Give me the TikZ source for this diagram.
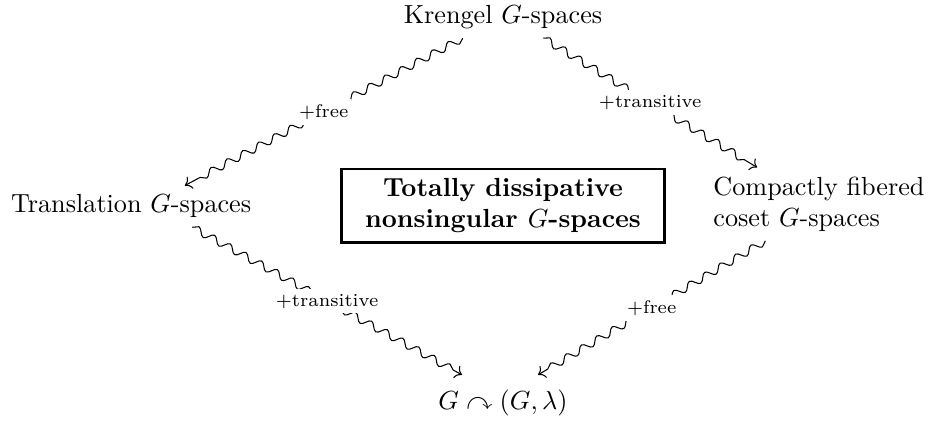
\documentclass[tikz,border=0pt]{standalone}
\usepackage{amsmath}
\usepackage{amssymb}
\usepackage{tikz}
\usetikzlibrary{arrows.meta,decorations.pathmorphing}

\begin{document}
\begin{tikzpicture}[
  space/.style={align=left, inner sep=3.33pt},
  squig/.style={-To, decorate, decoration={snake, amplitude=.5mm, segment length=2.4mm, post length=1.2mm}},
  lbl/.style={fill=white, font=\scriptsize, inner xsep=1pt, inner ysep=2pt},
  box/.style={draw, line width=1pt, align=center, font=\bfseries, inner xsep=9pt, inner ysep=3.5pt}
]
\useasboundingbox (0,0) rectangle (12.48,5.64);
\node[space] (kr) at (6.75,5.41) {Krengel $G$-spaces};
\node[space] (tr) at (1.76,2.87) {Translation $G$-spaces};
\node[space] (cf) at (10.99,2.90) {Compactly fibered\\coset $G$-spaces};
\node[space] (gg) at (6.75,0.23) {$G \curvearrowright (G,\lambda)$};
\node[box] (td) at (6.75,2.88) {Totally dissipative\\nonsingular $G$-spaces};

\draw[squig] ([xshift=-0.54cm]kr.south) -- node[lbl] {+free} ([xshift=0.72cm]tr.north);
\draw[squig] ([xshift=0.54cm]kr.south) -- node[lbl] {+transitive} ([xshift=-0.83cm]cf.north);
\draw[squig] ([xshift=0.82cm]tr.south) -- node[lbl] {+transitive} ([xshift=-0.55cm,yshift=0.08cm]gg.north);
\draw[squig] ([xshift=-0.72cm]cf.south) -- node[lbl] {+free} ([xshift=0.47cm,yshift=0.08cm]gg.north);
\end{tikzpicture}
\end{document}
